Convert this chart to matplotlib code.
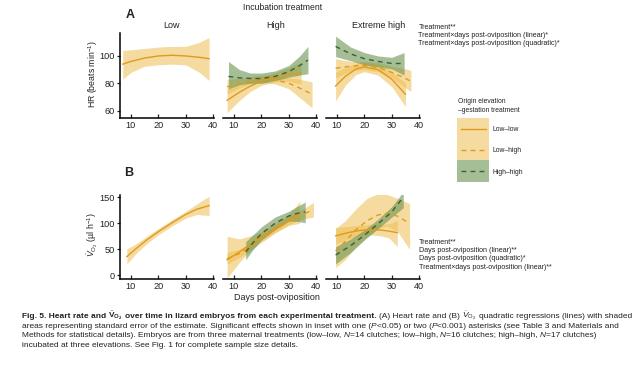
import matplotlib
matplotlib.use('Agg')
import matplotlib.pyplot as plt
from matplotlib.patches import Rectangle

plt.rcParams['font.family'] = ['Liberation Sans', 'DejaVu Sans']
plt.rcParams['mathtext.fontset'] = 'custom'
plt.rcParams['mathtext.rm'] = 'Liberation Sans'
plt.rcParams['mathtext.it'] = 'Liberation Sans:italic'
plt.rcParams['mathtext.bf'] = 'Liberation Sans:bold'

# ---- data: (day, fitted, lower SE, upper SE) ----
columns = ['Low', 'High', 'Extreme high']
groups = ['Low–low', 'Low–high', 'High–high']

# A: heart rate (beats/min)
hr_low_ll = [(7, 94, 83, 104), (10, 96, 88, 104.5), (15, 98.5, 92.5, 105.5), (20, 100, 93.5, 106.5),
             (25, 100.5, 94, 107), (30, 100, 93.5, 107), (35, 99, 88, 110), (38.5, 98, 82, 113.5)]
hr_high_ll = [(7.5, 67.5, 58.5, 76.5), (12, 73.5, 67.5, 79.5), (16, 78, 74, 82), (20, 81.5, 78.5, 84.5),
              (25, 84.5, 81, 88), (30, 86.5, 81.5, 91.5), (34.5, 87.5, 79.5, 95.5)]
hr_high_lh = [(7.5, 77.5, 72, 83), (12, 80, 76.5, 83.5), (16, 82, 79.5, 85), (20, 83, 80.5, 86),
              (25, 82.5, 79.5, 86), (30, 80, 76, 84), (34, 76.5, 69.5, 83), (38.5, 72, 62, 81)]
hr_high_hh = [(8, 85, 76, 96), (12, 84, 79, 90), (16, 83.5, 80, 87.5), (20, 83.5, 80, 87.5),
              (25, 85, 82, 89), (30, 88.5, 84.5, 93), (34, 93, 86, 100), (37, 97, 87, 107)]
hr_ext_ll = [(9.5, 78, 67, 88), (13, 85, 78.5, 91.5), (17, 90.5, 86.5, 94.5), (20, 92, 88.5, 95.5),
             (25, 90, 86, 94), (30, 83, 77.5, 88.5), (35, 72, 63, 80)]
hr_ext_lh = [(9.5, 91, 84, 98), (15, 92.5, 89, 96), (20, 93, 90, 96), (25, 91.5, 88.5, 95),
             (30, 88, 84, 92.5), (34, 84.5, 78, 91), (37, 81.5, 74, 89.5)]
hr_ext_hh = [(9.5, 107, 99.5, 114.5), (15, 101.5, 96.5, 106.5), (20, 98, 93.5, 102.5),
             (25, 96, 92, 100), (30, 94.5, 90.5, 99), (34.5, 94.5, 86, 102.5)]

# B: oxygen consumption (ul/h)
vo2_low_ll = [(8.5, 36, 22, 51), (12, 52, 43, 61), (16, 69, 62, 76), (20, 84, 78, 90),
              (25, 101, 95, 107), (30, 117, 110, 123), (34, 127, 117, 137), (38.5, 134, 115, 152)]
vo2_high_ll = [(7.5, 30, -5, 75), (12, 45, 25, 70), (16, 60, 48, 76), (20, 75, 66, 84),
               (25, 91, 83, 100), (30, 106, 96, 117), (34, 117, 100, 142)]
vo2_high_lh = [(7.5, 32, 22, 44), (12, 42, 34, 50), (16, 55, 48, 62), (20, 70, 63, 77),
               (25, 88, 81, 95), (30, 104, 97, 112), (35, 117, 108, 127), (39, 126, 112, 140)]
vo2_high_hh = [(14.3, 45, 30, 65), (17, 63, 50, 78), (20, 80, 68, 93), (25, 100, 88, 112),
               (30, 114, 104, 123), (33, 119, 104, 132), (36, 122, 101, 141)]
vo2_ext_ll = [(9.5, 76, 60, 92), (14, 82, 70, 94), (18, 86, 76, 96), (22, 88, 78, 98),
              (26, 87, 76, 98), (29, 85, 72, 99), (32, 82, 55, 105)]
vo2_ext_lh = [(9.5, 47, 15, 90), (13, 65, 30, 105), (17, 88, 55, 128), (21, 105, 75, 148),
              (25, 116, 90, 157), (28, 119, 95, 156), (32, 114, 85, 148), (36.5, 100, 50, 138)]
vo2_ext_hh = [(9.5, 39, 22, 55), (15, 57, 44, 70), (20, 77, 68, 87), (25, 99, 90, 108),
              (30, 122, 112, 132), (34.2, 150, 130, 161)]

hr_inset = ['Treatment**',
            'Treatment×days post-oviposition (linear)*',
            'Treatment×days post-oviposition (quadratic)*']
vo2_inset = ['Treatment**',
             'Days post-oviposition (linear)**',
             'Days post-oviposition (quadratic)*',
             'Treatment×days post-oviposition (linear)**']

# ---- styles ----
YEL_FILL, YEL_LINE = '#EDBE50', '#E09A1E'
GRN_FILL, GRN_LINE = '#6A9450', '#3E5E38'
DASH = (0, (3.5, 3))
STYLE = {
    'Low–low': dict(fill=YEL_FILL, alpha=0.55, color=YEL_LINE, ls='-'),
    'Low–high': dict(fill=YEL_FILL, alpha=0.55, color=YEL_LINE, ls=DASH),
    'High–high': dict(fill=GRN_FILL, alpha=0.6, color=GRN_LINE, ls=DASH),
}
TXT = '#222222'

hr_panels = {'Low': [('Low–low', hr_low_ll)],
             'High': [('Low–low', hr_high_ll), ('Low–high', hr_high_lh), ('High–high', hr_high_hh)],
             'Extreme high': [('Low–low', hr_ext_ll), ('Low–high', hr_ext_lh), ('High–high', hr_ext_hh)]}
vo2_panels = {'Low': [('Low–low', vo2_low_ll)],
              'High': [('Low–low', vo2_high_ll), ('Low–high', vo2_high_lh), ('High–high', vo2_high_hh)],
              'Extreme high': [('Low–low', vo2_ext_ll), ('Low–high', vo2_ext_lh), ('High–high', vo2_ext_hh)]}

W, H = 635, 366
fig = plt.figure(figsize=(W / 100, H / 100), dpi=100)


def px_axes(left, top, width, height):
    return fig.add_axes([left / W, 1 - (top + height) / H, width / W, height / H])


def draw_panel(ax, series, ylim, yticks, show_y):
    for group, rows in series:
        st = STYLE[group]
        day, fit, lo, hi = zip(*rows)
        ax.fill_between(day, lo, hi, color=st['fill'], alpha=st['alpha'], lw=0)
    for group, rows in series:
        st = STYLE[group]
        day, fit, lo, hi = zip(*rows)
        ax.plot(day, fit, color=st['color'], ls=st['ls'], lw=1.0)
    ax.set_xlim(6, 40.3)
    ax.set_ylim(*ylim)
    ax.set_xticks([10, 20, 30, 40])
    ax.set_yticks(yticks)
    ax.patch.set_visible(False)
    for s in ['top', 'right']:
        ax.spines[s].set_visible(False)
    ax.spines['bottom'].set_linewidth(1.1)
    ax.spines['left'].set_linewidth(1.1)
    ax.tick_params(axis='x', direction='in', length=3, width=0.9, labelsize=6.6,
                   pad=2.5, colors=TXT)
    ax.tick_params(axis='y', direction='out', length=2.5, width=0.9, labelsize=6.6,
                   pad=1.2, colors=TXT)
    if not show_y:
        ax.spines['left'].set_visible(False)
        ax.tick_params(axis='y', left=False, labelleft=False)


lefts = [120, 223, 326]
axes_a, axes_b = [], []
for i, col in enumerate(columns):
    a = px_axes(lefts[i], 33, 94, 85)
    draw_panel(a, hr_panels[col], (54.6, 116.8), [60, 80, 100], i == 0)
    axes_a.append(a)
    b = px_axes(lefts[i], 195, 94, 84)
    draw_panel(b, vo2_panels[col], (-7, 154.4), [0, 50, 100, 150], i == 0)
    axes_b.append(b)

# overlay in pixel coordinates for labels, legend and caption
ov = fig.add_axes([0, 0, 1, 1], zorder=-1)
ov.set_xlim(0, W)
ov.set_ylim(H, 0)
ov.axis('off')

ov.text(283, 7, 'Incubation treatment', fontsize=6.2, color=TXT, ha='center', va='center')
for x, col in zip([172, 276, 379], columns):
    ov.text(x, 26, col, fontsize=6.5, color=TXT, ha='center', va='center')
ov.text(130, 15, 'A', fontsize=9, fontweight='bold', color=TXT, ha='center', va='center')
ov.text(129, 173, 'B', fontsize=9, fontweight='bold', color=TXT, ha='center', va='center')
ov.text(93, 74, 'HR (beats min$^{-1}$)', fontsize=6.3, color=TXT, rotation=90,
        ha='center', va='center')
ov.text(93, 235, r'$\dot{V}_{\mathrm{O_2}}$ (µl h$^{-1}$)', fontsize=6.3, color=TXT,
        rotation=90, ha='center', va='center')
ov.text(277, 297, 'Days post-oviposition', fontsize=6.5, color=TXT, ha='center', va='center')

INS = 5.1
for k, line in enumerate(hr_inset):
    ov.text(418.5, 27.5 + k * 8, line, fontsize=INS, color=TXT, ha='left', va='center')
for k, line in enumerate(vo2_inset):
    ov.text(419, 242 + k * 8.5, line, fontsize=INS, color=TXT, ha='left', va='center')

# legend
ov.text(458, 101.5, 'Origin elevation', fontsize=4.9, color=TXT, ha='left', va='center')
ov.text(458, 110, '–gestation treatment', fontsize=4.9, color=TXT, ha='left', va='center')
rows_y = [(118, 139), (139, 160), (160, 182)]
for group, (y0, y1) in zip(groups, rows_y):
    st = STYLE[group]
    ov.add_patch(Rectangle((457, y0), 32, y1 - y0, color=st['fill'], alpha=st['alpha'], lw=0))
    ym = (y0 + y1) / 2
    ov.plot([461, 486], [ym, ym], color=st['color'], ls=st['ls'], lw=1.0)
    ov.text(492.5, ym + 1, group, fontsize=4.9, color=TXT, ha='left', va='center')

# caption with mixed bold / italic runs
renderer = fig.canvas.get_renderer()
CAP = 6.0
space_w = CAP * 100 / 72 * 0.278

VO2_B = r'$\mathbf{\dot{V}_{O_2}}$'
VO2 = r'$\dot{V}_{\mathrm{O_2}}$'
caption = [
    [('Fig. 5. Heart rate and', 'b', False), (VO2_B, 'b', True),
     ('over time in lizard embryos from each experimental treatment.', 'b', True),
     ('(A) Heart rate and (B)', 'n', True), (VO2, 'n', True),
     ('quadratic regressions (lines) with shaded', 'n', True)],
    [('areas representing standard error of the estimate. Significant effects shown in inset with one (', 'n', False),
     ('P', 'i', False), ('<0.05) or two (', 'n', False), ('P', 'i', False),
     ('<0.001) asterisks (see Table 3 and Materials and', 'n', False)],
    [('Methods for statistical details). Embryos are from three maternal treatments (low–low,', 'n', False),
     ('N', 'i', True), ('=14 clutches; low–high,', 'n', False), ('N', 'i', True),
     ('=16 clutches; high–high,', 'n', False), ('N', 'i', True), ('=17 clutches)', 'n', False)],
    [('incubated at three elevations. See Fig. 1 for complete sample size details.', 'n', False)],
]
for k, runs in enumerate(caption):
    x = 22
    y = 318 + k * 9.7
    for text, style, gap in runs:
        if gap:
            x += space_w
        t = ov.text(x, y, text, fontsize=CAP, color=TXT, ha='left', va='baseline',
                    fontweight='bold' if style == 'b' else 'normal',
                    fontstyle='italic' if style == 'i' else 'normal')
        x += t.get_window_extent(renderer).width

fig.savefig('out.png', dpi=100)
